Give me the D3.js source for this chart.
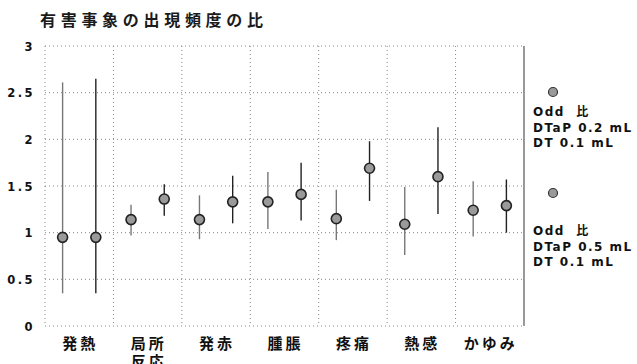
<!DOCTYPE html>
<html><head><meta charset="utf-8">
<script src="https://cdn.jsdelivr.net/npm/d3@7"></script>
<style>
body{margin:0;background:#fff;overflow:hidden;}
svg{display:block;}
</style></head><body>
<svg id="c" width="637" height="364"></svg>
<script>
const categories = [["発熱"],["局所","反応"],["発赤"],["腫脹"],["疼痛"],["熱感"],["かゆみ"]];
const seriesNames = ["Odd  比|DTaP 0.2 mL|DT 0.1 mL","Odd  比|DTaP 0.5 mL|DT 0.1 mL"];
// odds ratio estimates
const odds02 = [0.95, 1.14, 1.14, 1.33, 1.15, 1.09, 1.24];
const odds05 = [0.95, 1.36, 1.33, 1.41, 1.69, 1.60, 1.29];
// confidence interval bounds
const lower02 = [0.35, 0.97, 0.93, 1.04, 0.92, 0.76, 0.96];
const upper02 = [2.61, 1.30, 1.40, 1.65, 1.46, 1.49, 1.55];
const lower05 = [0.35, 1.18, 1.10, 1.13, 1.34, 1.20, 1.00];
const upper05 = [2.65, 1.52, 1.61, 1.75, 1.98, 2.13, 1.57];
const yTicks = [0, 0.5, 1, 1.5, 2, 2.5, 3];
const yTickLabels = ["0","0.5","1","1.5","2","2.5","3"];
const title = "有害事象の出現頻度の比";

const svg = d3.select("#c");
const L = 45, R = 524, T = 46, B = 326;
const x = d3.scaleBand().domain(d3.range(categories.length)).range([L, R]).padding(0);
const xs = d3.scaleBand().domain([0,1]).range([0, x.bandwidth()]).paddingInner(0).paddingOuter(0.03);
const y = d3.scaleLinear().domain([0, 3]).range([B, T]);

const font = "'Noto Sans CJK JP', 'DejaVu Sans', sans-serif";
const latin = "'DejaVu Sans', 'Noto Sans CJK JP', sans-serif";

svg.append("text").attr("x", 40).attr("y", 26).text(title)
  .attr("font-family", font).attr("font-size", 16).attr("font-weight", "bold")
  .attr("letter-spacing", 4.7).attr("fill", "#1a1a1a");

// grid
const g = svg.append("g");
g.selectAll("line.h").data(yTicks).join("line")
  .attr("x1", L).attr("x2", R).attr("y1", d => y(d)).attr("y2", d => y(d))
  .attr("stroke", "#888").attr("stroke-width", 1).attr("stroke-dasharray", "1,3");
const vEdges = d3.range(categories.length).map(i => x(i));
g.selectAll("line.v").data(vEdges).join("line")
  .attr("x1", d => d).attr("x2", d => d).attr("y1", T).attr("y2", B)
  .attr("stroke", "#888").attr("stroke-width", 1).attr("stroke-dasharray", "1,3");
svg.append("line").attr("x1", R).attr("x2", R).attr("y1", T).attr("y2", B)
  .attr("stroke", "#555").attr("stroke-width", 1.2);

// y axis labels
const yAxis = d3.axisLeft(y).tickValues(yTicks).tickFormat((d,i) => yTickLabels[i]).tickSize(0).tickPadding(0);
const ya = svg.append("g").attr("transform", `translate(${35},0)`).call(yAxis);
ya.select(".domain").remove();
ya.selectAll("text").attr("font-family", latin)
  .attr("font-size", 11.5).attr("font-weight", "bold").attr("letter-spacing", 2.5)
  .attr("fill", "#111").attr("dy", "0.36em");

// x labels
const xl = svg.append("g");
categories.forEach((lines, i) => {
  const cx = x(i) + x.bandwidth()/2 + 1;
  const t = xl.append("text").attr("x", cx).attr("y", 349)
    .attr("text-anchor", "middle").attr("font-family", font).attr("font-size", 15)
    .attr("font-weight", "bold").attr("letter-spacing", 3).attr("fill", "#111");
  lines.forEach((ln, j) => t.append("tspan").attr("x", cx).attr("dy", j ? 18 : 0).text(ln));
});

// series
const series = [
  {est: odds02, lo: lower02, hi: upper02, bar: "#777"},
  {est: odds05, lo: lower05, hi: upper05, bar: "#222"}
];
series.forEach((s, k) => {
  const gg = svg.append("g");
  const data = s.est.map((v, i) => ({i, v, lo: s.lo[i], hi: s.hi[i]}));
  const cx = d => x(d.i) + xs(k) + xs.bandwidth()/2;
  gg.selectAll("line").data(data).join("line")
    .attr("x1", cx).attr("x2", cx).attr("y1", d => y(d.lo)).attr("y2", d => y(d.hi))
    .attr("stroke", s.bar).attr("stroke-width", 1.4);
  gg.selectAll("circle").data(data).join("circle")
    .attr("cx", cx).attr("cy", d => y(d.v)).attr("r", 5)
    .attr("fill", "#9a9a9a").attr("stroke", "#222").attr("stroke-width", 1.6);
});

// legend
const legY = [92, 193];
const legTextY = [116, 235];
seriesNames.forEach((nm, k) => {
  svg.append("circle").attr("cx", 553).attr("cy", legY[k]).attr("r", 4.5)
    .attr("fill", "#9a9a9a").attr("stroke", "#333").attr("stroke-width", 1.2);
  const t = svg.append("text").attr("x", 533).attr("y", legTextY[k])
    .attr("font-family", latin).style("white-space", "pre")
    .attr("font-size", 12).attr("font-weight", "bold").attr("letter-spacing", 1.5).attr("fill", "#111");
  nm.split("|").forEach((ln, j) => t.append("tspan").attr("x", 533).attr("dy", j ? 15.5 : 0).text(ln));
});
</script>
</body></html>
